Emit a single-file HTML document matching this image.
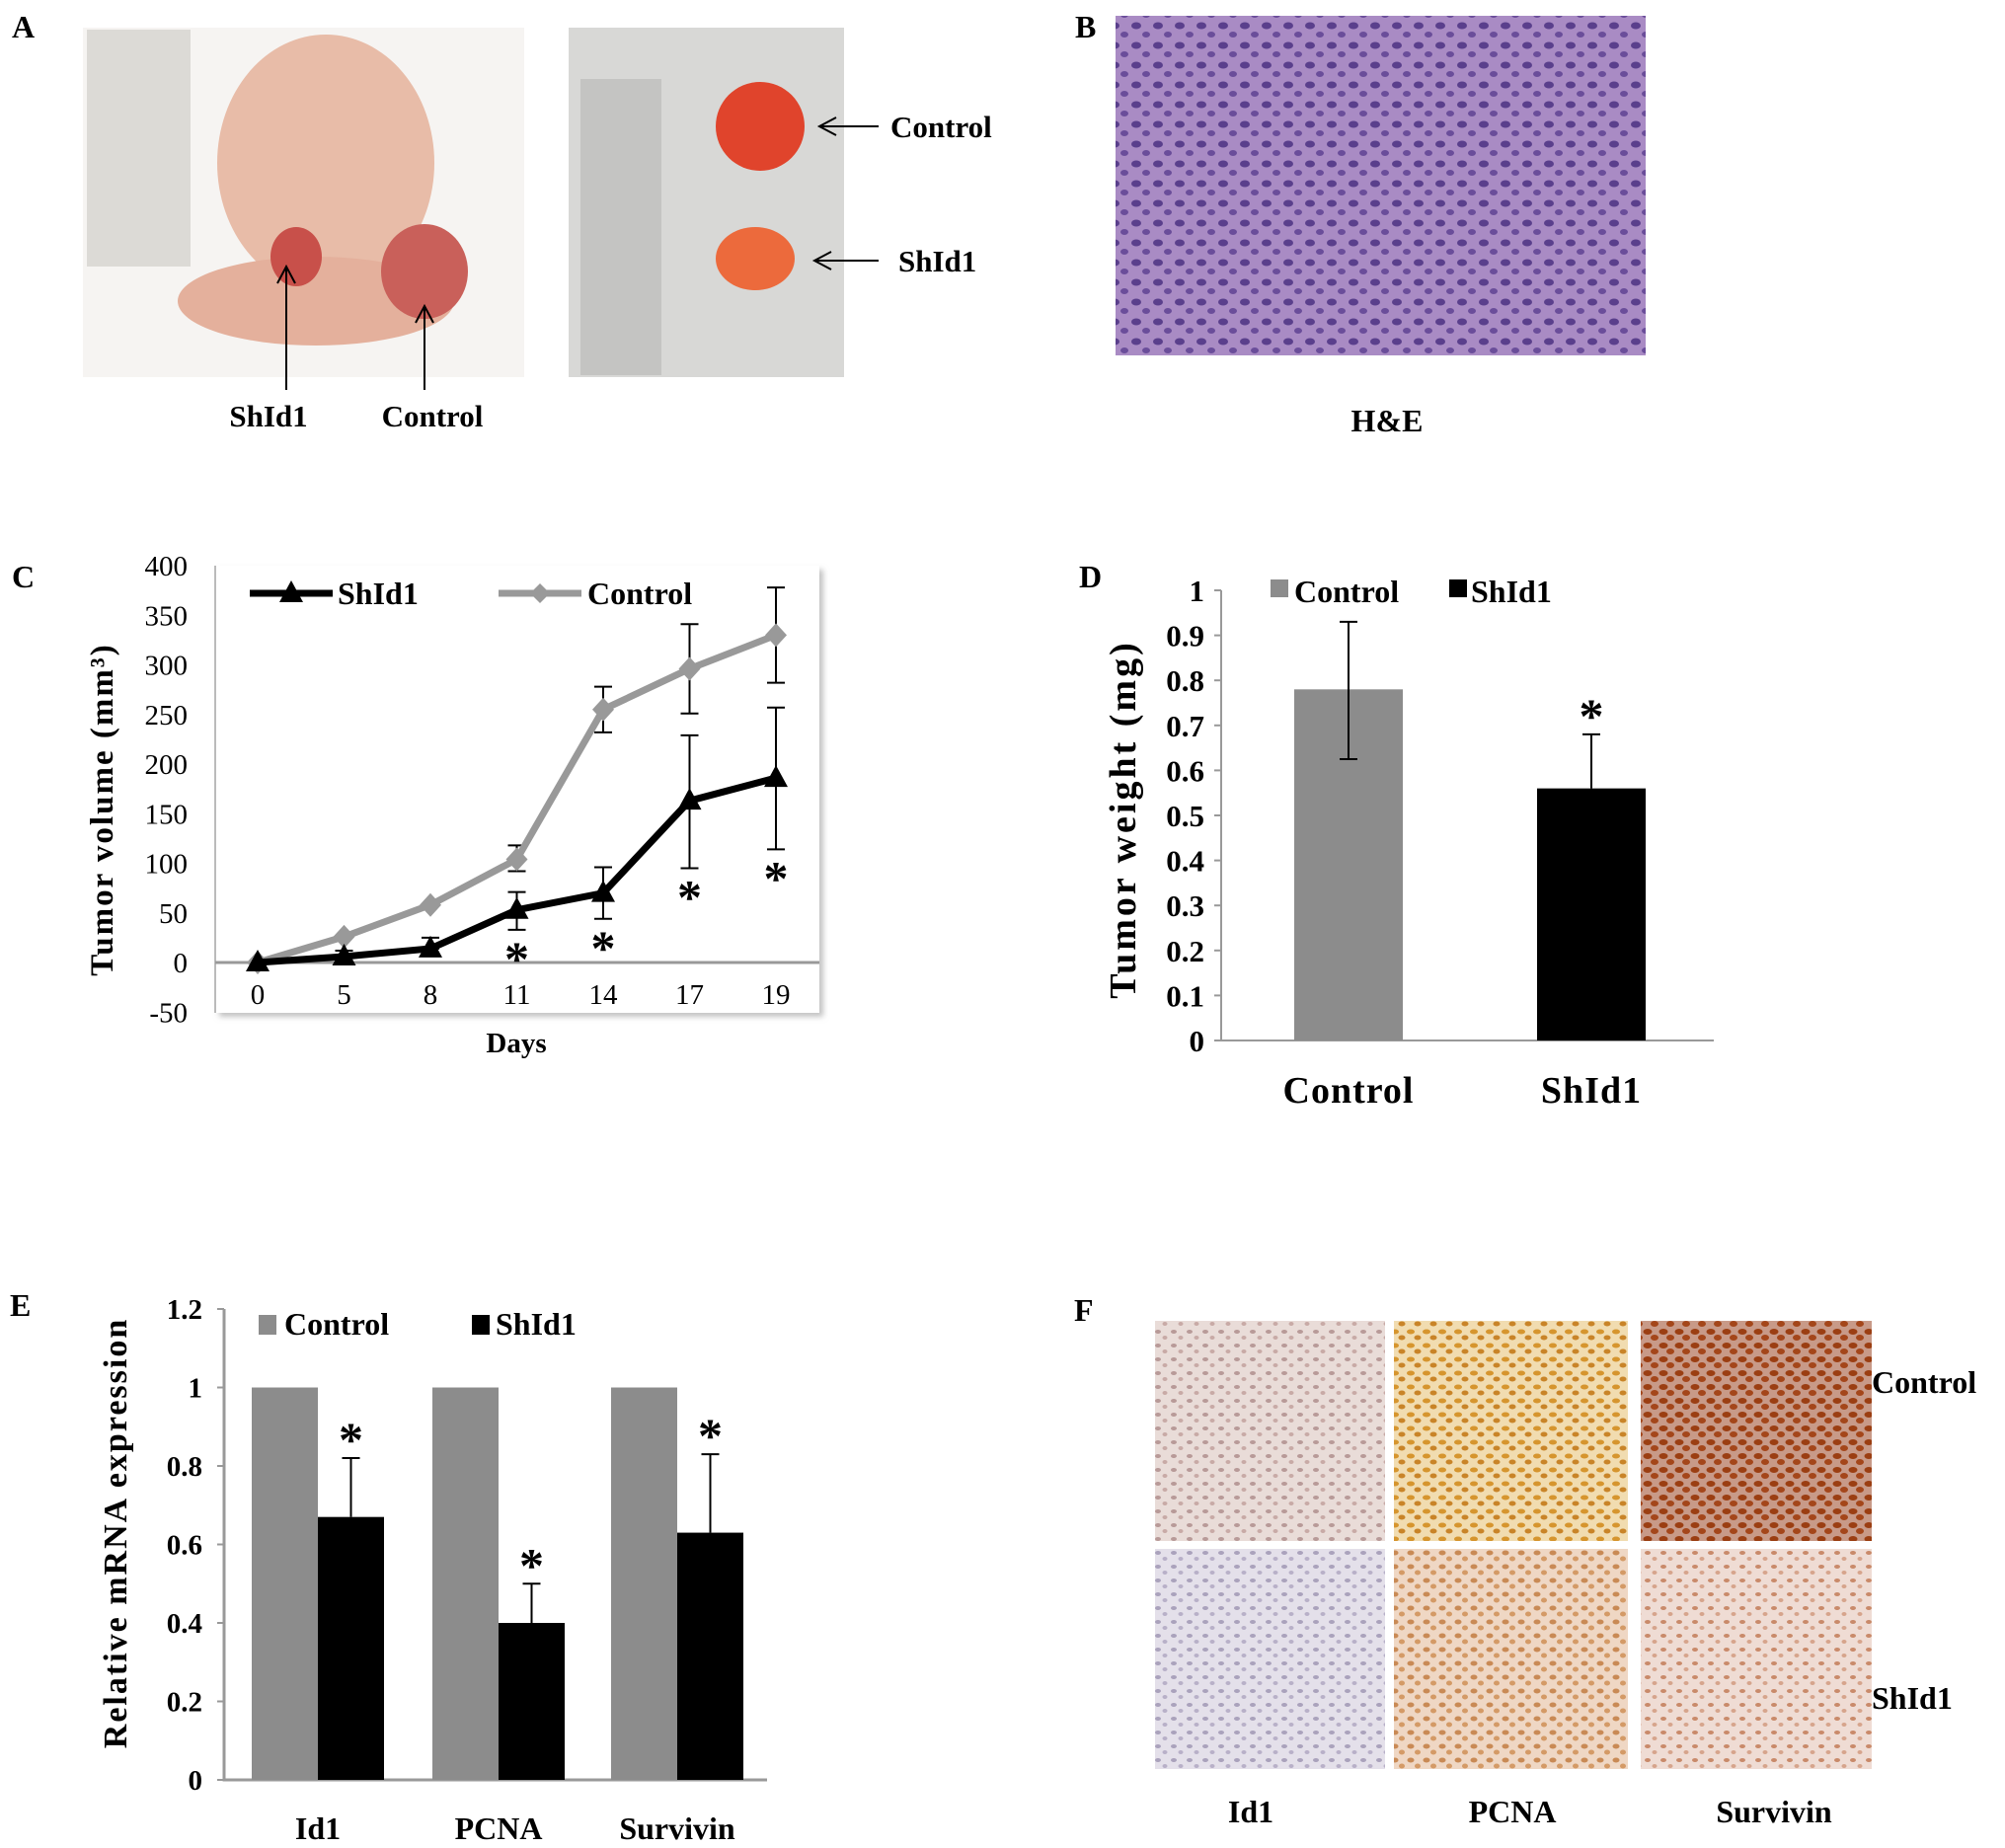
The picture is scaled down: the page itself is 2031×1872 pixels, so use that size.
<!DOCTYPE html>
<html><head><meta charset="utf-8"><style>
html,body{margin:0;padding:0;background:#fff;}
svg{display:block;font-family:"Liberation Serif",serif;}
</style></head><body>
<svg id="fig" width="2031" height="1872" viewBox="0 0 2031 1872" xmlns="http://www.w3.org/2000/svg">
<defs>
<filter id="sh" x="-5%" y="-5%" width="115%" height="115%"><feDropShadow dx="4" dy="4" stdDeviation="3" flood-color="#999" flood-opacity="0.6"/></filter>
<pattern id="he" width="22" height="20" patternUnits="userSpaceOnUse"><rect width="22" height="20" fill="#a98bc4"/><ellipse cx="7" cy="6" rx="5" ry="3.5" fill="#5a3f8c"/><ellipse cx="17" cy="15" rx="4" ry="3" fill="#6a4d9a"/></pattern>
<pattern id="ihc1" width="16" height="14" patternUnits="userSpaceOnUse"><rect width="16" height="14" fill="#e9dcd8"/><ellipse cx="5" cy="5" rx="3" ry="2" fill="#b89a98"/><ellipse cx="12" cy="11" rx="2.5" ry="2" fill="#c8aaa6"/></pattern>
<pattern id="ihc2" width="16" height="14" patternUnits="userSpaceOnUse"><rect width="16" height="14" fill="#f1dcb0"/><ellipse cx="5" cy="5" rx="4" ry="2.5" fill="#d6952e"/><ellipse cx="12" cy="11" rx="3.5" ry="2.5" fill="#c98428"/></pattern>
<pattern id="ihc3" width="16" height="14" patternUnits="userSpaceOnUse"><rect width="16" height="14" fill="#c89a88"/><ellipse cx="5" cy="5" rx="4.5" ry="3" fill="#9b3e12"/><ellipse cx="12" cy="11" rx="4" ry="3" fill="#a4461a"/></pattern>
<pattern id="ihc4" width="16" height="14" patternUnits="userSpaceOnUse"><rect width="16" height="14" fill="#e4e0ea"/><ellipse cx="5" cy="5" rx="3" ry="2" fill="#aaa2bc"/><ellipse cx="12" cy="11" rx="2.5" ry="2" fill="#b8b0c8"/></pattern>
<pattern id="ihc5" width="16" height="14" patternUnits="userSpaceOnUse"><rect width="16" height="14" fill="#efd7c4"/><ellipse cx="5" cy="5" rx="3.5" ry="2.5" fill="#c98a55"/><ellipse cx="12" cy="11" rx="3" ry="2.5" fill="#d49a66"/></pattern>
<pattern id="ihc6" width="16" height="14" patternUnits="userSpaceOnUse"><rect width="16" height="14" fill="#efdcd4"/><ellipse cx="5" cy="5" rx="3" ry="2" fill="#c98a6a"/><ellipse cx="12" cy="11" rx="2.5" ry="2" fill="#d6a48c"/></pattern>
</defs>

<g font-weight="bold" font-size="32">
<text x="12" y="38">A</text>
<text x="1089" y="38">B</text>
<text x="12" y="595">C</text>
<text x="1093" y="595">D</text>
<text x="10" y="1333">E</text>
<text x="1088" y="1338">F</text>
</g>

<!-- Panel A photos -->
<g>
<rect x="84" y="28" width="447" height="354" fill="#f6f4f2"/>
<rect x="88" y="30" width="105" height="240" fill="#dcdad6"/>
<ellipse cx="330" cy="165" rx="110" ry="130" fill="#e8bca8"/>
<ellipse cx="320" cy="305" rx="140" ry="45" fill="#e4b09c"/>
<ellipse cx="300" cy="260" rx="26" ry="30" fill="#c8504a"/>
<ellipse cx="430" cy="275" rx="44" ry="48" fill="#c9605a"/>
<rect x="576" y="28" width="279" height="354" fill="#d8d8d6"/>
<rect x="588" y="80" width="82" height="300" fill="#c4c4c2"/>
<ellipse cx="770" cy="128" rx="45" ry="45" fill="#e0442c"/>
<ellipse cx="765" cy="262" rx="40" ry="32" fill="#ec6a3c"/>
<g stroke="#000" stroke-width="2" fill="none">
<line x1="290" y1="270" x2="290" y2="395"/><polyline points="281,287 290,270 299,287"/>
<line x1="430" y1="310" x2="430" y2="395"/><polyline points="421,327 430,310 439,327"/>
<line x1="830" y1="128" x2="890" y2="128"/><polyline points="847,119 830,128 847,137"/>
<line x1="825" y1="264" x2="890" y2="264"/><polyline points="842,255 825,264 842,273"/>
</g>
<g font-weight="bold" font-size="31">
<text x="272" y="432" text-anchor="middle">ShId1</text>
<text x="438" y="432" text-anchor="middle">Control</text>
<text x="902" y="139">Control</text>
<text x="910" y="275">ShId1</text>
</g>
</g>

<!-- Panel B -->
<rect x="1130" y="16" width="537" height="344" fill="url(#he)"/>
<text x="1405" y="437" font-weight="bold" font-size="32" text-anchor="middle">H&amp;E</text>

<!-- Panel C -->
<g id="chartC">
<rect x="218" y="573" width="612" height="453" fill="#fff" filter="url(#sh)"/>
<text transform="translate(114,820) rotate(-90)" text-anchor="middle" font-weight="bold" font-size="33" letter-spacing="2">Tumor volume (mm³)</text>
<text x="523" y="1066" text-anchor="middle" font-weight="bold" font-size="29">Days</text>
<line x1="253" y1="601" x2="337" y2="601" stroke="#000" stroke-width="7"/>
<polygon points="295,588 283,610 307,610" fill="#000"/>
<text x="342" y="612" font-weight="bold" font-size="32">ShId1</text>
<line x1="505" y1="601" x2="589" y2="601" stroke="#999" stroke-width="7"/>
<polygon points="547,591 557,601 547,611 537,601" fill="#999"/>
<text x="595" y="612" font-weight="bold" font-size="32">Control</text>
</g>

<!-- Panel D -->
<g id="chartD">
<text transform="translate(1150,830) rotate(-90)" text-anchor="middle" font-weight="bold" font-size="38" letter-spacing="3">Tumor weight (mg)</text>
<rect x="1287" y="587" width="18" height="18" fill="#8c8c8c"/>
<text x="1311" y="610" font-weight="bold" font-size="32">Control</text>
<rect x="1468" y="587" width="18" height="18" fill="#000"/>
<text x="1490" y="610" font-weight="bold" font-size="32">ShId1</text>
</g>

<!-- Panel E -->
<g id="chartE">
<text transform="translate(128,1553) rotate(-90)" text-anchor="middle" font-weight="bold" font-size="34" letter-spacing="2">Relative mRNA expression</text>
<rect x="262" y="1332" width="18" height="20" fill="#8c8c8c"/>
<text x="288" y="1352" font-weight="bold" font-size="32">Control</text>
<rect x="478" y="1332" width="18" height="20" fill="#000"/>
<text x="502" y="1352" font-weight="bold" font-size="32">ShId1</text>
</g>

<!-- Panel F -->
<g>
<rect x="1170" y="1338" width="233" height="223" fill="url(#ihc1)"/>
<rect x="1412" y="1338" width="237" height="223" fill="url(#ihc2)"/>
<rect x="1662" y="1338" width="234" height="223" fill="url(#ihc3)"/>
<rect x="1170" y="1569" width="233" height="223" fill="url(#ihc4)"/>
<rect x="1412" y="1569" width="237" height="223" fill="url(#ihc5)"/>
<rect x="1662" y="1569" width="234" height="223" fill="url(#ihc6)"/>
<g font-weight="bold" font-size="32">
<text x="1896" y="1411">Control</text>
<text x="1896" y="1731">ShId1</text>
<text x="1267" y="1846" text-anchor="middle">Id1</text>
<text x="1532" y="1846" text-anchor="middle">PCNA</text>
<text x="1797" y="1846" text-anchor="middle">Survivin</text>
</g>
</g>
</svg>
<script>
const NS="http://www.w3.org/2000/svg";
// Panel C data
const daysC=["0","5","8","11","14","17","19"];
const controlC=[0,26,58,104,255,296,330];
const controlErrLo=[0,0,0,92,232,251,282];
const controlErrHi=[0,0,0,118,278,341,378];
const shC=[0,6,14,53,70,163,186];
const shErrLo=[0,0,0,33,44,95,114];
const shErrHi=[0,12,25,71,96,229,257];
const shStarC=[false,false,false,true,true,true,true];
const ticksC=[-50,0,50,100,150,200,250,300,350,400];
// Panel D data
const catsD=["Control","ShId1"];
const valsD=[0.78,0.56];
const errHiD=[0.93,0.68];
const errLoD=[0.625,0.56];
const ticksD=[0,0.1,0.2,0.3,0.4,0.5,0.6,0.7,0.8,0.9,1];
// Panel E data
const catsE=["Id1","PCNA","Survivin"];
const controlE=[1,1,1];
const shE=[0.67,0.40,0.63];
const shErrE=[0.82,0.50,0.83];
const ticksE=[0,0.2,0.4,0.6,0.8,1,1.2];

function mk(tag,attrs,parent,text){const e=document.createElementNS(NS,tag);for(const k in attrs)e.setAttribute(k,attrs[k]);if(text!==undefined)e.textContent=text;parent.appendChild(e);return e;}

// ---- C ----
(function(){
const g=document.getElementById('chartC');
const yC=v=>975-(v)*(975-573)/400;
const xC=i=>261+i*(786-261)/6;
const ax=mk('line',{x1:218,y1:573,x2:218,y2:1026,stroke:'#bbb','stroke-width':2},g);

const zl=mk('line',{x1:218,y1:yC(0),x2:830,y2:yC(0),stroke:'#999','stroke-width':3},g);

ticksC.forEach(t=>{const e=mk('text',{x:190,y:yC(t)+10,'text-anchor':'end','font-size':29},g,String(t));
});
daysC.forEach((d,i)=>{const e=mk('text',{x:xC(i),y:yC(0)+42,'text-anchor':'middle','font-size':29},g,d);
});
function errbar(i,lo,hi){if(hi<=lo)return;const x=xC(i);
const l=mk('path',{d:`M${x},${yC(lo)}V${yC(hi)}M${x-9},${yC(hi)}H${x+9}M${x-9},${yC(lo)}H${x+9}`,stroke:'#000','stroke-width':2,fill:'none'},g);
}
controlC.forEach((v,i)=>errbar(i,controlErrLo[i]||v,controlErrHi[i]||v));
const pc=mk('polyline',{points:controlC.map((v,i)=>xC(i)+','+yC(v)).join(' '),fill:'none',stroke:'#999','stroke-width':7},g);

controlC.forEach((v,i)=>{const x=xC(i),y=yC(v);const m=mk('polygon',{points:`${x},${y-12} ${x+11},${y} ${x},${y+12} ${x-11},${y}`,fill:'#999'},g);
});
shC.forEach((v,i)=>errbar(i,shErrLo[i]||v,shErrHi[i]||v));
const ps=mk('polyline',{points:shC.map((v,i)=>xC(i)+','+yC(v)).join(' '),fill:'none',stroke:'#000','stroke-width':7},g);

shC.forEach((v,i)=>{const x=xC(i),y=yC(v);const m=mk('polygon',{points:`${x},${y-13} ${x+12},${y+9} ${x-12},${y+9}`,fill:'#000'},g);
});
shStarC.forEach((s,i)=>{if(!s)return;const e=mk('text',{x:xC(i),y:yC(shErrLo[i])+46,'text-anchor':'middle','font-size':50,'font-weight':'bold'},g,'*');
});
})();

// ---- D ----
(function(){
const g=document.getElementById('chartD');
const yD=v=>1054-v*(1054-598);
const xs=[1311,1557],w=110;
const ax=mk('path',{d:`M1237,598V1054H1736`,stroke:'#999','stroke-width':2,fill:'none'},g);

ticksD.forEach(t=>{const e=mk('text',{x:1220,y:yD(t)+11,'text-anchor':'end','font-size':31,'font-weight':'bold'},g,String(t));

mk('line',{x1:1230,y1:yD(t),x2:1237,y2:yD(t),stroke:'#999','stroke-width':2},g);});
valsD.forEach((v,i)=>{const r=mk('rect',{x:xs[i],y:yD(v),width:w,height:yD(0)-yD(v),fill:i?'#000':'#8c8c8c'},g);

const cx=xs[i]+w/2;
const eb=mk('path',{d:`M${cx},${yD(errLoD[i])}V${yD(errHiD[i])}M${cx-9},${yD(errHiD[i])}H${cx+9}`+(errLoD[i]<v?`M${cx-9},${yD(errLoD[i])}H${cx+9}`:''),stroke:'#000','stroke-width':2,fill:'none'},g);

const t=mk('text',{x:cx,y:1117,'text-anchor':'middle','font-size':38,'font-weight':'bold','letter-spacing':1},g,catsD[i]);
});
const s=mk('text',{x:1557+w/2,y:yD(errHiD[1])-2,'text-anchor':'middle','font-size':50,'font-weight':'bold'},g,'*');

})();

// ---- E ----
(function(){
const g=document.getElementById('chartE');
const yE=v=>1803-v*(1803-1326)/1.2;
const cx=[322,505,686],bw=67;
const ax=mk('path',{d:`M227,1326V1803H777`,stroke:'#999','stroke-width':3,fill:'none'},g);

ticksE.forEach(t=>{const e=mk('text',{x:205,y:yE(t)+10,'text-anchor':'end','font-size':29,'font-weight':'bold'},g,String(t));

mk('line',{x1:220,y1:yE(t),x2:227,y2:yE(t),stroke:'#999','stroke-width':2},g);});
catsE.forEach((c,i)=>{
const r1=mk('rect',{x:cx[i]-bw,y:yE(controlE[i]),width:bw,height:yE(0)-yE(controlE[i]),fill:'#8c8c8c'},g);

const r2=mk('rect',{x:cx[i],y:yE(shE[i]),width:bw,height:yE(0)-yE(shE[i]),fill:'#000'},g);

const x=cx[i]+bw/2;
const eb=mk('path',{d:`M${x},${yE(shE[i])}V${yE(shErrE[i])}M${x-9},${yE(shErrE[i])}H${x+9}`,stroke:'#000','stroke-width':2,fill:'none'},g);

const s=mk('text',{x:x,y:yE(shErrE[i])-2,'text-anchor':'middle','font-size':50,'font-weight':'bold'},g,'*');

const t=mk('text',{x:cx[i],y:1863,'text-anchor':'middle','font-size':32,'font-weight':'bold'},g,c);
});
})();
</script>
</body></html>
